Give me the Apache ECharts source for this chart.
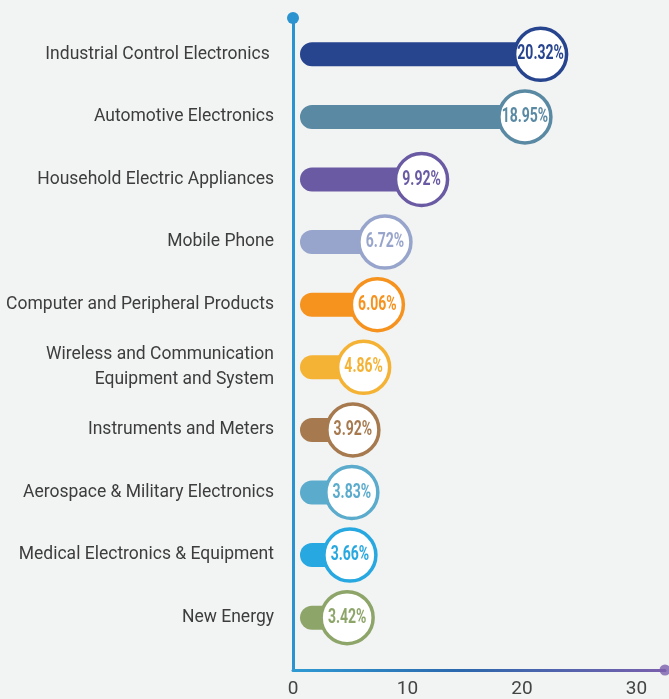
<!DOCTYPE html>
<html>
<head>
<meta charset="utf-8">
<script src="https://cdn.jsdelivr.net/npm/echarts@6/dist/echarts.min.js"></script>
<style>
  html, body { margin: 0; padding: 0; background: #f2f3f3; }
  #chart { width: 669px; height: 699px; }
</style>
</head>
<body>
<div id="chart"></div>
<script>
// Application share (%) by field
const categories = [
  'Industrial Control Electronics ',
  'Automotive Electronics',
  'Household Electric Appliances',
  'Mobile Phone',
  'Computer and Peripheral Products',
  'Wireless and Communication\nEquipment and System',
  'Instruments and Meters',
  'Aerospace & Military Electronics',
  'Medical Electronics & Equipment',
  'New Energy'
];
const shares = [20.32, 18.95, 9.92, 6.72, 6.06, 4.86, 3.92, 3.83, 3.66, 3.42];
const barColors = [
  '#27448f', '#5a8aa3', '#6a5aa3', '#97a4cb', '#f6921e',
  '#f5b335', '#a67a4e', '#5aabcc', '#27a8e0', '#8ea56a'
];
const xTicks = [0, 10, 20, 30];
const xMax = 32.5;

const labelFont = "Roboto, 'DejaVu Sans Condensed', sans-serif";

const chart = echarts.init(document.getElementById('chart'));

const option = {
  backgroundColor: '#f2f3f3',
  animation: false,
  grid: [
    // axes frame
    { left: 293, right: 4, top: 18, bottom: 29, outerBoundsMode: 'none' },
    // bars
    { left: 293, right: 4, top: 23, bottom: 50, outerBoundsMode: 'none' }
  ],
  xAxis: [
    {
      gridIndex: 0,
      type: 'value',
      min: 0,
      max: xMax,
      interval: 10,
      splitLine: { show: false },
      axisTick: { show: false },
      axisLine: {
        show: true,
        lineStyle: {
          width: 3,
          color: new echarts.graphic.LinearGradient(0, 0, 1, 0, [
            { offset: 0, color: '#2f9bd3' },
            { offset: 0.45, color: '#2c68ad' },
            { offset: 1, color: '#7b5fac' }
          ])
        }
      },
      axisLabel: {
        margin: 10,
        color: '#444',
        fontSize: 19,
        fontFamily: labelFont,
        showMaxLabel: false,
        formatter: (v) => (xTicks.includes(v) ? String(v) : '')
      }
    },
    {
      gridIndex: 1,
      type: 'value',
      min: 0,
      max: xMax,
      show: false
    }
  ],
  yAxis: [
    {
      gridIndex: 0,
      type: 'value',
      min: 0,
      max: 1,
      splitLine: { show: false },
      axisTick: { show: false },
      axisLabel: { show: false },
      axisLine: {
        show: true,
        symbol: ['none', 'circle'],
        symbolSize: [12, 12],
        lineStyle: { width: 3, color: '#2b93cf' }
      }
    },
    {
      gridIndex: 1,
      type: 'category',
      inverse: true,
      data: categories,
      axisLine: { show: false },
      axisTick: { show: false },
      axisLabel: {
        margin: 19,
        color: '#3d3d3d',
        fontSize: 17.5,
        lineHeight: 25,
        fontFamily: labelFont
      }
    }
  ],
  series: [
    {
      // purple dot closing the x axis
      type: 'scatter',
      xAxisIndex: 0,
      yAxisIndex: 0,
      data: [[xMax, 0]],
      symbolSize: 11,
      clip: false,
      silent: true,
      itemStyle: { color: '#7b5fac' }
    },
    {
      type: 'custom',
      xAxisIndex: 1,
      yAxisIndex: 1,
      data: shares.map((v, i) => [v, i]),
      encode: { x: 0, y: 1 },
      renderItem: (params, api) => {
        const v = api.value(0);
        const idx = api.value(1);
        const color = barColors[idx];
        const start = api.coord([0, idx]);
        const end = api.coord([v, idx]);
        const cx = end[0] + 15; // label bubble sits just past the value
        const cy = end[1];
        return {
          type: 'group',
          children: [
            {
              type: 'rect',
              shape: { x: start[0] + 7, y: cy - 12, width: cx - start[0] - 7, height: 24, r: 12 },
              style: { fill: color }
            },
            {
              type: 'circle',
              shape: { cx: cx, cy: cy, r: 26 },
              style: { fill: '#ffffff', stroke: color, lineWidth: 3.5 }
            },
            {
              type: 'text',
              x: cx,
              y: cy,
              scaleX: 0.7, // squeeze to a condensed look
              style: {
                text: v.toFixed(2) + '%',
                fill: color,
                fontSize: 20,
                fontWeight: 'bold',
                fontFamily: labelFont,
                align: 'center',
                verticalAlign: 'middle'
              }
            }
          ]
        };
      }
    }
  ]
};

chart.setOption(option);
</script>
</body>
</html>
